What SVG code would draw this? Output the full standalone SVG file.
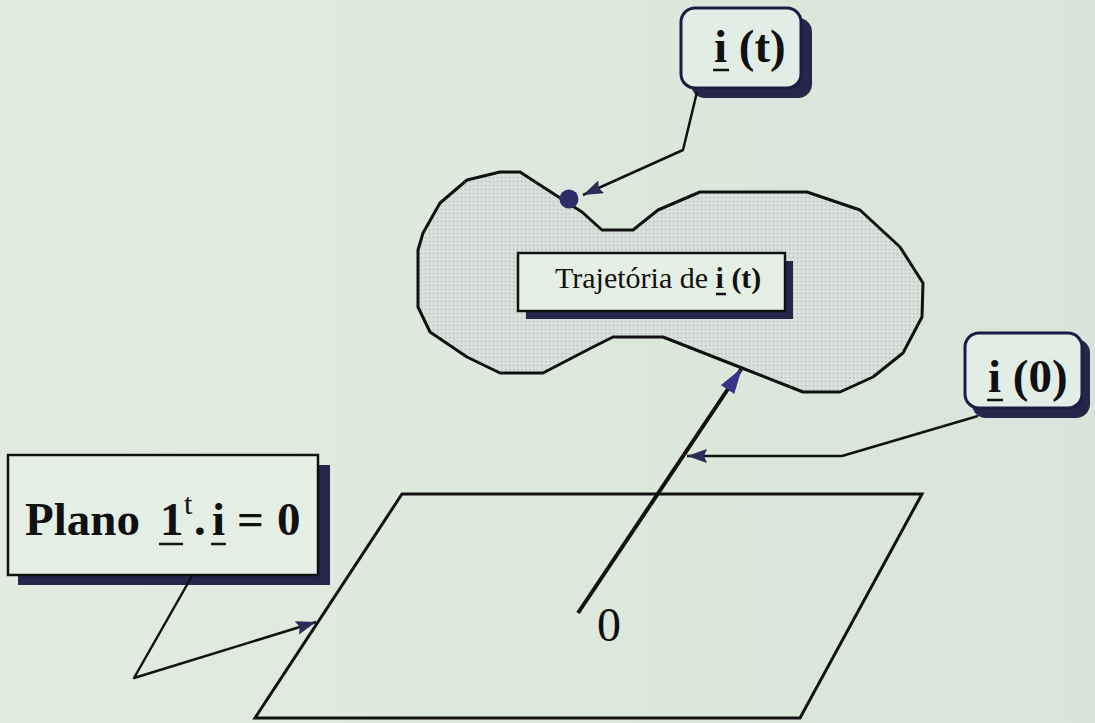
<svg xmlns="http://www.w3.org/2000/svg" width="1095" height="723" viewBox="0 0 1095 723">
<defs>
<style>
.serif{font-family:"Liberation Serif","Times New Roman",serif;fill:#111}
.b{font-weight:bold}
.ln{fill:none;stroke:#111;stroke-width:2.5;stroke-linejoin:round}
.ul{stroke:#111;stroke-width:2.5}
.shadow{fill:#26264a}
.box{fill:#e6efe6;stroke:#111;stroke-width:2.5}
.rbox{fill:#e2ede6;stroke:#1c1c44;stroke-width:3}
</style>
<linearGradient id="bg" x1="0" y1="0" x2="1" y2="0">
<stop offset="0" stop-color="#e2ebe0"/>
<stop offset="1" stop-color="#d9e5da"/>
</linearGradient>
<pattern id="dots" width="4" height="4" patternUnits="userSpaceOnUse">
<rect width="4" height="4" fill="#d9dfda"/>
<rect x="1" y="1" width="1.2" height="1.2" fill="#aeb4b2"/>
</pattern>
<marker id="arr" markerUnits="userSpaceOnUse" markerWidth="22" markerHeight="14" refX="20" refY="7" orient="auto">
<path d="M0,0 L20,7 L0,14 L3,7 z" fill="#2b2b55"/>
</marker>
<marker id="arrBig" markerUnits="userSpaceOnUse" markerWidth="28" markerHeight="16" refX="26" refY="8" orient="auto">
<path d="M0,0 L26,8 L0,16 z" fill="#35358a"/>
</marker>
</defs>
<rect width="1095" height="723" fill="url(#bg)"/>

<g id="plane">
<polygon points="402,494 922,494 800,718 255,718" fill="none" stroke="#111" stroke-width="3"/>
</g>

<g id="trajectory">
<polygon fill="url(#dots)" stroke="#111" stroke-width="3" stroke-linejoin="round" points="500,172 520,172 557,196 582,212 602,230 633,230 658,210 700,192 807,192 860,210 900,247 923,283 922,317 903,353 873,377 840,392 803,392 742,368 663,337 613,337 593,347 543,373 500,373 467,357 430,332 418,307 418,250 423,233 440,203 467,180"/>
<circle cx="569" cy="199" r="9.5" fill="#2c2c6a"/>
</g>

<g id="label-trajetoria">
<rect class="shadow" x="526" y="261" width="267" height="58"/>
<rect class="box" x="518" y="253" width="267" height="58" stroke-width="2"/>
<text class="serif" x="555" y="288" font-size="30">Trajetória de <tspan class="b">i</tspan><tspan class="b"> (t)</tspan></text>
<line class="ul" x1="716" y1="294" x2="726" y2="294" stroke-width="2"/>
</g>

<g id="label-it">
<rect class="shadow" x="691" y="18" width="121" height="80" rx="14"/>
<rect class="rbox" x="681" y="8" width="120" height="80" rx="14"/>
<text class="serif b" x="714" y="62" font-size="47">i (t)</text>
<line class="ul" x1="713" y1="70" x2="729" y2="70" stroke-width="3"/>
</g>

<g id="label-i0">
<rect class="shadow" x="972" y="339" width="118" height="79" rx="14"/>
<rect class="rbox" x="965" y="333" width="117" height="75" rx="14"/>
<text class="serif b" x="988" y="392" font-size="47">i (0)</text>
<line class="ul" x1="987" y1="400" x2="1003" y2="400" stroke-width="3"/>
</g>

<g id="label-plano">
<rect class="shadow" x="18" y="465" width="312" height="120"/>
<rect class="box" x="8" y="455" width="310" height="120"/>
<text class="serif b" x="25" y="535" font-size="47">Plano</text>
<text class="serif b" x="160" y="535" font-size="47">1</text>
<text class="serif" x="184" y="514" font-size="30">t</text>
<text class="serif b" x="194" y="535" font-size="47">.</text>
<text class="serif b" x="212" y="535" font-size="47">i</text>
<text class="serif b" x="237" y="535" font-size="47">=</text>
<text class="serif b" x="277" y="535" font-size="47">0</text>
<line class="ul" x1="159" y1="544" x2="183" y2="544" stroke-width="3"/>
<line class="ul" x1="211" y1="544" x2="226" y2="544" stroke-width="3"/>
</g>

<g id="origin">
<text class="serif" x="597" y="641" font-size="48">0</text>
</g>

<g id="connectors">
<line x1="578" y1="613" x2="742" y2="368" stroke="#111" stroke-width="4" marker-end="url(#arrBig)"/>
<polyline class="ln" points="697,92 683,150 583,195" marker-end="url(#arr)"/>
<polyline class="ln" points="978,416 842,456 687,456" marker-end="url(#arr)"/>
<polyline class="ln" points="192,576 134,678 316,622" marker-end="url(#arr)"/>
</g>
</svg>
